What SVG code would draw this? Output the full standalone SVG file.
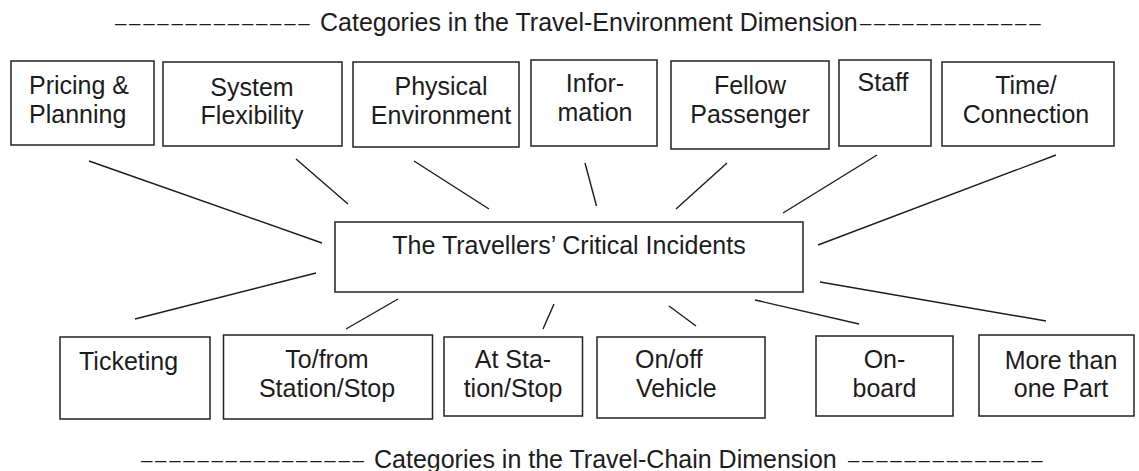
<svg xmlns="http://www.w3.org/2000/svg" width="1139" height="471" viewBox="0 0 1139 471">
  <style>
    .box { fill: #ffffff; stroke: #222222; stroke-width: 1.5; }
    .lbl { font-family: "Liberation Sans", Arial, sans-serif; font-size: 25px; fill: #1c1c1c; }
    .mid { text-anchor: middle; }
    .rule { font-size: 20.5px; letter-spacing: 2.7px; }
    .conn line { stroke: #1c1c1c; stroke-width: 1.4; stroke-linecap: butt; }
  </style>
  <rect width="1139" height="471" fill="#ffffff"/>

  <!-- dimension headings, flanked by dash rules -->
  <text id="heading-environment" class="lbl"><tspan class="rule" x="115" y="29.6">––––––––––––––</tspan><tspan x="320" y="31">Categories in the Travel-Environment Dimension</tspan><tspan class="rule" x="860" y="29.6">–––––––––––––</tspan></text>
  <text id="heading-chain" class="lbl"><tspan class="rule" x="141" y="466.6">––––––––––––––––</tspan><tspan x="374" y="468">Categories in the Travel-Chain Dimension</tspan><tspan class="rule" x="848" y="466.6">––––––––––––––</tspan></text>

  <!-- connectors -->
  <g id="connectors" class="conn">
    <line x1="89" y1="161" x2="322" y2="243"/>
    <line x1="296" y1="159" x2="348" y2="204"/>
    <line x1="414" y1="161" x2="489" y2="209"/>
    <line x1="585" y1="163" x2="596.5" y2="206"/>
    <line x1="727" y1="163" x2="676" y2="209"/>
    <line x1="877" y1="155" x2="783" y2="213"/>
    <line x1="1056" y1="155" x2="818" y2="245"/>
    <line x1="316" y1="273" x2="135" y2="319"/>
    <line x1="398" y1="299" x2="346" y2="329"/>
    <line x1="554" y1="304" x2="543" y2="329"/>
    <line x1="669" y1="306" x2="696" y2="326"/>
    <line x1="755" y1="300" x2="859" y2="324"/>
    <line x1="820" y1="282" x2="1046" y2="321"/>
  </g>

  <!-- centre node -->
  <g id="critical-incidents">
    <rect class="box" x="335" y="222" width="468" height="70"/>
    <text class="lbl mid" x="569" y="254">The Travellers’ Critical Incidents</text>
  </g>

  <!-- travel-environment categories -->
  <g id="pricing-planning">
    <rect class="box" x="11" y="61" width="143" height="84"/>
    <text class="lbl" x="29" y="94">Pricing &amp;</text>
    <text class="lbl" x="29" y="123">Planning</text>
  </g>
  <g id="system-flexibility">
    <rect class="box" x="163" y="62" width="179" height="84"/>
    <text class="lbl mid" x="252" y="96">System</text>
    <text class="lbl mid" x="252" y="124">Flexibility</text>
  </g>
  <g id="physical-environment">
    <rect class="box" x="353" y="62" width="166" height="85"/>
    <text class="lbl mid" x="441" y="95">Physical</text>
    <text class="lbl mid" x="441" y="124">Environment</text>
  </g>
  <g id="information">
    <rect class="box" x="531" y="60" width="126" height="86"/>
    <text class="lbl mid" x="595" y="92">Infor-</text>
    <text class="lbl mid" x="595" y="121">mation</text>
  </g>
  <g id="fellow-passenger">
    <rect class="box" x="671" y="61" width="158" height="88"/>
    <text class="lbl mid" x="750" y="94">Fellow</text>
    <text class="lbl mid" x="750" y="123">Passenger</text>
  </g>
  <g id="staff">
    <rect class="box" x="839" y="60" width="92" height="86"/>
    <text class="lbl mid" x="883" y="91">Staff</text>
  </g>
  <g id="time-connection">
    <rect class="box" x="942" y="62" width="172" height="84"/>
    <text class="lbl mid" x="1026" y="94">Time/</text>
    <text class="lbl mid" x="1026" y="123">Connection</text>
  </g>

  <!-- travel-chain categories -->
  <g id="ticketing">
    <rect class="box" x="60" y="337" width="150" height="82"/>
    <text class="lbl" x="79" y="370">Ticketing</text>
  </g>
  <g id="to-from-station">
    <rect class="box" x="223.5" y="335" width="209" height="84"/>
    <text class="lbl mid" x="327" y="368">To/from</text>
    <text class="lbl mid" x="327" y="397">Station/Stop</text>
  </g>
  <g id="at-station">
    <rect class="box" x="444" y="337" width="138.5" height="79"/>
    <text class="lbl mid" x="513" y="368">At Sta-</text>
    <text class="lbl mid" x="513" y="397">tion/Stop</text>
  </g>
  <g id="on-off-vehicle">
    <rect class="box" x="597" y="337" width="168" height="81"/>
    <text class="lbl" x="635" y="368">On/off</text>
    <text class="lbl" x="636" y="397">Vehicle</text>
  </g>
  <g id="on-board">
    <rect class="box" x="816" y="336" width="137" height="80"/>
    <text class="lbl mid" x="884.5" y="368">On-</text>
    <text class="lbl mid" x="884.5" y="397">board</text>
  </g>
  <g id="more-than-one-part">
    <rect class="box" x="979" y="335" width="155" height="81"/>
    <text class="lbl mid" x="1061" y="369">More than</text>
    <text class="lbl mid" x="1061" y="397">one Part</text>
  </g>
</svg>
